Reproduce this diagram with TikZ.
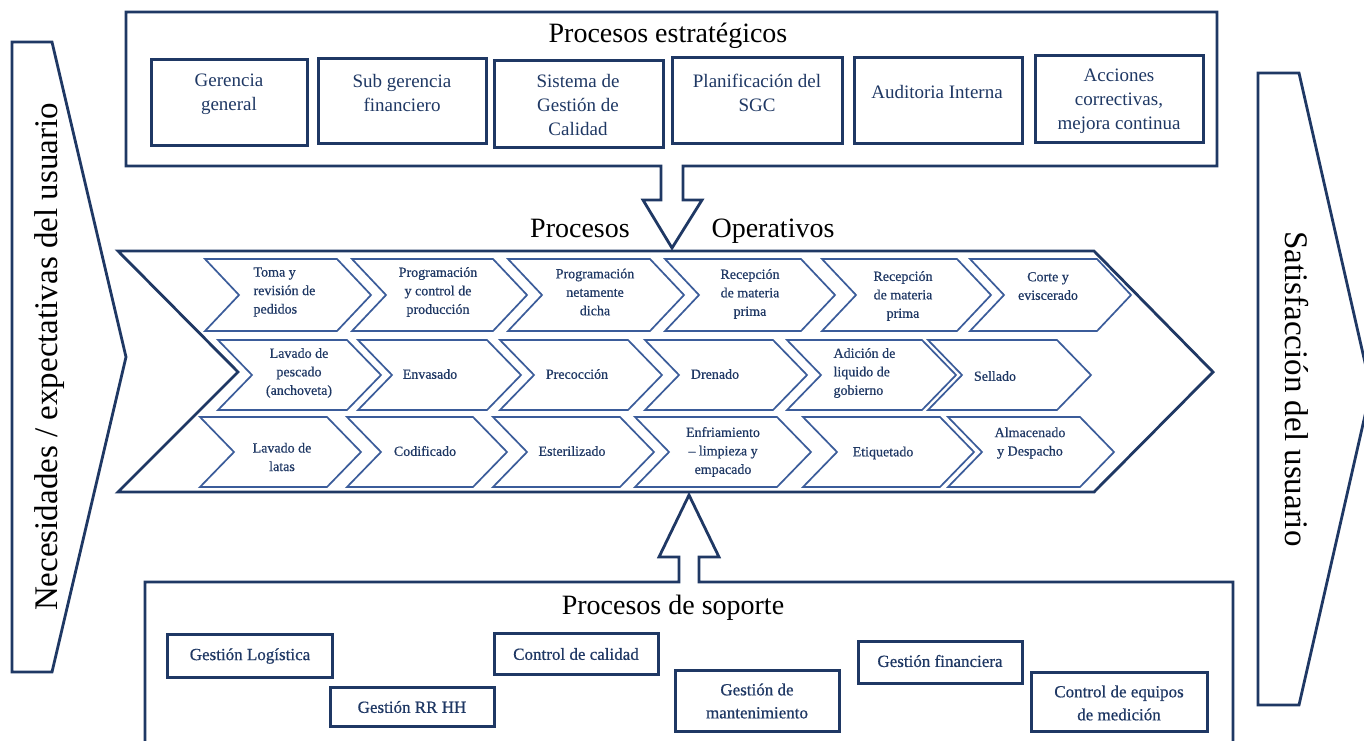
\documentclass[tikz,border=0pt]{standalone}
\usepackage{fontspec}
\setmainfont{Liberation Serif}
\newfontfamily\heavyserif{Liberation Serif}[FakeBold=0.6]
\definecolor{navy}{HTML}{1F3864}
\definecolor{chevblue}{HTML}{3B5C9A}
% one chevron step: left x, right corner x, top y, bottom y
\newcommand\chevshape[4]{%
  \draw[chevline] (#1,#3) -- (#2,#3) -- ({#2+34},{(#3+#4)/2}) -- (#2,#4) -- (#1,#4) -- ({#1+34},{(#3+#4)/2}) -- cycle;}
\begin{document}
\begin{tikzpicture}[x=1pt,y=-1pt,
  frame/.style={draw=navy,line width=2.8pt,line join=miter},
  boxline/.style={draw=navy,line width=3pt},
  chevline/.style={draw=chevblue,line width=1.7pt,line join=miter,fill=white},
  title/.style={font=\fontsize{28}{30}\selectfont,text=black},
  sidetxt/.style={font=\fontsize{33}{35}\selectfont,text=black},
  stxt/.style={font=\fontsize{19}{24}\selectfont,text=navy,align=center},
  ctxt/.style={font=\heavyserif\fontsize{14}{18.5}\selectfont,text=navy,align=center},
  sptxt/.style={font=\heavyserif\fontsize{17}{23}\selectfont,text=navy,align=center}]
\useasboundingbox (0,0) rectangle (1364,740);
\fill[white] (0,0) rectangle (1364,740);

% side arrows
\draw[frame] (12,42) -- (52,42) -- (126,357) -- (52,672) -- (12,672) -- cycle;
\node[sidetxt,rotate=90] (needs) at (50,357) {Necesidades / expectativas del usuario};
\draw[frame] (1258,73) -- (1299,73) -- (1371,389) -- (1299,705) -- (1258,705) -- cycle;
\node[sidetxt,rotate=-90] (satis) at (1297,389) {Satisfacción del usuario};

% strategic block with its down arrow
\draw[frame] (661,166) -- (126,166) -- (126,12) -- (1217,12) -- (1217,166) -- (683,166)
  -- (683,200) -- (702,200) -- (672,248) -- (643,200) -- (661,200) -- cycle;
\node[title,anchor=base] (estr) at (668,42) {Procesos estratégicos};

\draw[boxline] (151,59) rectangle (307,145);
\node[stxt] (s1) at (229,94) {Gerencia\\general};
\draw[boxline] (318,58) rectangle (486,143);
\node[stxt] (s2) at (402,93) {Sub gerencia\\financiero};
\draw[boxline] (494,60) rectangle (663,147);
\node[stxt] (s3) at (578,105) {Sistema de\\Gestión de\\Calidad};
\draw[boxline] (672,57) rectangle (842,143);
\node[stxt] (s4) at (757,93) {Planificación del\\SGC};
\draw[boxline] (854,57) rectangle (1022,143);
\node[stxt] (s5) at (937,92) {Auditoria Interna};
\draw[boxline] (1035,55) rectangle (1203,142);
\node[stxt] (s6) at (1119,101) {Acciones\\correctivas,\\mejora continua};

% operative chevron
\node[title,anchor=base] (opa) at (580,237) {Procesos};
\node[title,anchor=base] (opb) at (773,237) {Operativos};
\draw[frame] (118,251) -- (1094,251) -- (1213,372) -- (1094,492) -- (118,492) -- (238,372) -- cycle;

% row 1
\chevshape{205}{337}{259}{331}
\chevshape{352}{493}{259}{331}
\chevshape{508}{650}{259}{331}
\chevshape{665}{801}{259}{331}
\chevshape{822}{957}{259}{331}
\chevshape{970}{1097}{259}{331}
\node[ctxt,align=left,anchor=west] (r1a) at (250,292) {Toma y\\revisión de\\pedidos};
\node[ctxt] (r1b) at (438,292) {Programación\\y control de\\producción};
\node[ctxt] (r1c) at (595,292) {Programación\\netamente\\dicha};
\node[ctxt] (r1d) at (750,294) {Recepción\\de materia\\prima};
\node[ctxt] (r1e) at (903,296) {Recepción\\de materia\\prima};
\node[ctxt] (r1f) at (1048,286) {Corte y\\eviscerado};

% row 2
\chevshape{218}{347}{340}{410}
\chevshape{358}{487}{340}{410}
\chevshape{500}{628}{340}{410}
\chevshape{645}{773}{340}{410}
\chevshape{787}{922}{340}{410}
\chevshape{928}{1057}{340}{410}
\node[ctxt] (r2a) at (299,373) {Lavado de\\pescado\\(anchoveta)};
\node[ctxt] (r2b) at (430,374) {Envasado};
\node[ctxt] (r2c) at (577,374) {Precocción};
\node[ctxt] (r2d) at (715,374) {Drenado};
\node[ctxt,align=left,anchor=west] (r2e) at (830,373) {Adición de\\liquido de\\gobierno};
\node[ctxt] (r2f) at (995,376) {Sellado};

% row 3
\chevshape{200}{327}{417}{487}
\chevshape{347}{473}{417}{487}
\chevshape{493}{620}{417}{487}
\chevshape{635}{777}{417}{487}
\chevshape{803}{940}{417}{487}
\chevshape{948}{1080}{417}{487}
\node[ctxt] (r3a) at (282,457) {Lavado de\\latas};
\node[ctxt] (r3b) at (425,451) {Codificado};
\node[ctxt] (r3c) at (572,451) {Esterilizado};
\node[ctxt] (r3d) at (723,452) {Enfriamiento\\– limpieza y\\empacado};
\node[ctxt] (r3e) at (883,453) {Etiquetado};
\node[ctxt] (r3f) at (1030,443) {Almacenado\\y Despacho};

% support block with its up arrow
\draw[frame] (145,745) -- (145,582) -- (679,582) -- (679,557) -- (659,557) -- (689,495)
  -- (719,557) -- (699,557) -- (699,582) -- (1233,582) -- (1233,745);
\node[title,anchor=base] (sop) at (673,614) {Procesos de soporte};

\draw[boxline] (167,634) rectangle (332,677);
\node[sptxt] (p1) at (250,656) {Gestión Logística};
\draw[boxline] (330,687) rectangle (494,726);
\node[sptxt] (p2) at (412,707) {Gestión RR HH};
\draw[boxline] (494,633) rectangle (658,674);
\node[sptxt] (p3) at (576,654) {Control de calidad};
\draw[boxline] (675,670) rectangle (839,731);
\node[sptxt] (p4) at (757,701) {Gestión de\\mantenimiento};
\draw[boxline] (858,641) rectangle (1022,683);
\node[sptxt] (p5) at (940,661) {Gestión financiera};
\draw[boxline] (1031,672) rectangle (1207,731);
\node[sptxt] (p6) at (1119,703) {Control de equipos\\de medición};
\end{tikzpicture}
\end{document}
